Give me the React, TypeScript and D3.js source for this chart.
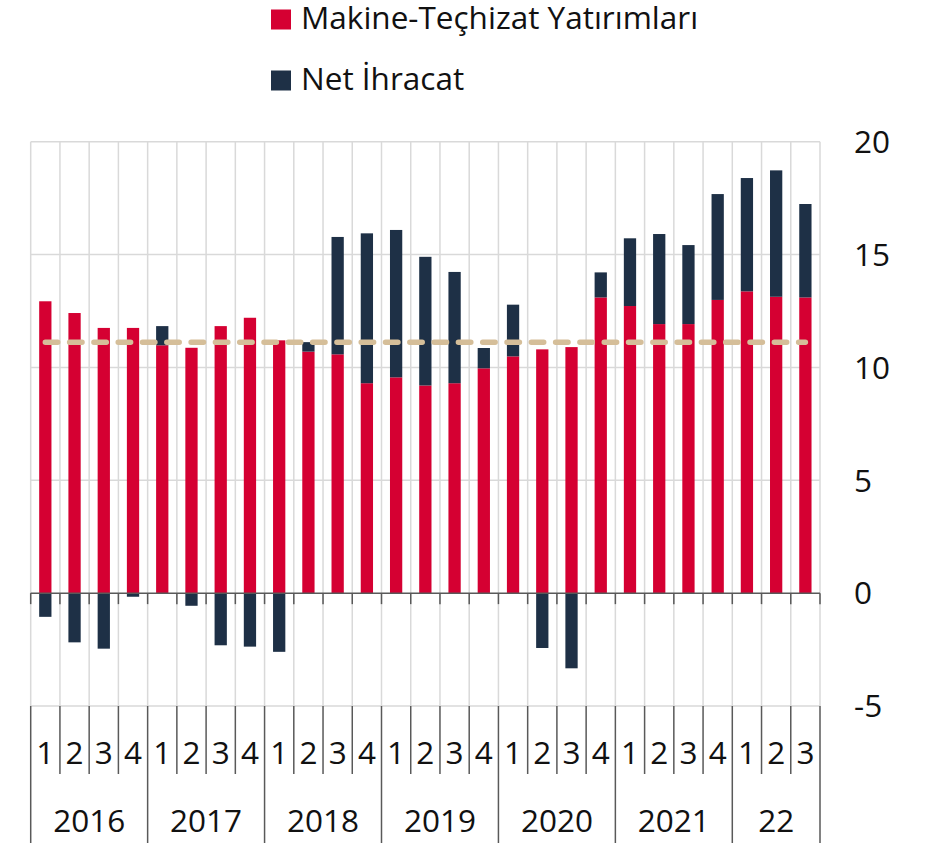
import React from "react";
import * as d3 from "d3";

const quarters = ["1","2","3","4","1","2","3","4","1","2","3","4","1","2","3","4","1","2","3","4","1","2","3","4","1","2","3"];
const years = ["2016","2017","2018","2019","2020","2021","22"];
const yearQuarterCounts = [4,4,4,4,4,4,3];
const makine = [12.93,12.41,11.75,11.75,10.98,10.87,11.83,12.2,11.2,10.7,10.58,9.3,9.56,9.2,9.3,9.96,10.49,10.8,10.9,13.1,12.72,11.92,11.92,12.99,13.37,13.13,13.1];
const netIhracat = [-1.05,-2.18,-2.46,-0.16,0.85,-0.56,-2.31,-2.37,-2.6,0.42,5.2,6.64,6.53,5.7,4.93,0.9,2.29,-2.43,-3.33,1.11,3.0,3.99,3.5,4.69,5.02,5.6,4.14];
const average = 11.12;
const yTicks = [-5,0,5,10,15,20];
const legendLabels = ["Makine-Teçhizat Yatırımları","Net İhracat"];

const RED = "#D50032";
const NAVY = "#1E3046";
const TAN = "#D5BE99";
const FONT = "'Open Sans', 'Noto Sans', sans-serif";
const FS = 31.5;

export default function App() {
  const W = 935, H = 846;
  const left = 30.7, right = 820, top = 141.7, bottom = 706;
  const idx = quarters.map((_, i) => i);
  const x = d3.scaleBand<number>().domain(idx).range([left, right]).padding(0);
  const bw = x.bandwidth();
  const barW = bw * 0.42;
  const y = d3.scaleLinear().domain([-5, 20]).range([bottom, top]);

  const rows = idx.map(i => ({ i, makine: makine[i], net: netIhracat[i] }));
  const stack = d3.stack<any>().keys(["makine", "net"]).offset(d3.stackOffsetDiverging);
  const series = stack(rows);
  const colors: Record<string, string> = { makine: RED, net: NAVY };

  const boundaries = d3.range(quarters.length + 1).map(i => left + i * bw);
  const yearStarts: number[] = [0];
  yearQuarterCounts.forEach(c => yearStarts.push(yearStarts[yearStarts.length - 1] + c));

  const line = d3.line<number>().x(i => (x(i) as number) + bw / 2).y(() => y(average));

  return (
    <svg width={W} height={H} style={{ position: "absolute", left: 0, top: 0, background: "#fff" }} fontFamily={FONT}>
      {/* legend */}
      {legendLabels.map((l, k) => (
        <g key={l}>
          <rect x={271} y={9.5 + k * 61} width={20} height={20} fill={k === 0 ? RED : NAVY} />
          <text x={301} y={29 + k * 61} fontSize={FS} fill="#111">{l}</text>
        </g>
      ))}
      {/* horizontal gridlines */}
      {yTicks.filter(t => t !== 0).map(t => (
        <line key={t} x1={left} x2={right} y1={y(t)} y2={y(t)} stroke="#D9D9D9" strokeWidth={1.5} />
      ))}
      {/* vertical gridlines */}
      {boundaries.map((b, i) => (
        <line key={i} x1={b} x2={b} y1={top} y2={bottom} stroke="#D9D9D9" strokeWidth={1.5} />
      ))}
      {/* bars */}
      {series.map(s => (
        <g key={s.key} fill={colors[s.key]}>
          {s.map((d, i) => {
            const y0 = y(d[0]), y1 = y(d[1]);
            const h = Math.abs(y0 - y1);
            if (h < 0.01) return null;
            return <rect key={i} x={(x(i) as number) + (bw - barW) / 2} y={Math.min(y0, y1)} width={barW} height={h} />;
          })}
        </g>
      ))}
      {/* zero line */}
      <line x1={left} x2={right} y1={y(0)} y2={y(0)} stroke="#595959" strokeWidth={1.5} />
      {boundaries.map((b, i) => (
        <line key={"zt" + i} x1={b} x2={b} y1={y(0)} y2={y(0) + 11} stroke="#595959" strokeWidth={1.5} />
      ))}
      {/* average dashed line */}
      <path d={line([0, quarters.length - 1]) || ""} fill="none" stroke={TAN} strokeWidth={5.5} strokeDasharray="12.4 11.9" strokeLinecap="round" />
      {/* bottom category axis */}
      {boundaries.map((b, i) => {
        const isYear = yearStarts.includes(i);
        return <line key={"bt" + i} x1={b} x2={b} y1={bottom} y2={isYear ? 843 : 774} stroke="#595959" strokeWidth={1.5} />;
      })}
      {quarters.map((q, i) => (
        <text key={"q" + i} x={(x(i) as number) + bw / 2} y={764} textAnchor="middle" fontSize={FS} fill="#111">{q}</text>
      ))}
      {years.map((yr, k) => {
        const cx = left + ((yearStarts[k] + yearStarts[k + 1]) / 2) * bw;
        return <text key={yr} x={cx} y={832} textAnchor="middle" fontSize={FS} fill="#111">{yr}</text>;
      })}
      {/* right axis labels */}
      {yTicks.map(t => (
        <text key={"yl" + t} x={854} y={y(t)} dy="0.36em" textAnchor="start" fontSize={FS} fill="#111">{t}</text>
      ))}
    </svg>
  );
}
